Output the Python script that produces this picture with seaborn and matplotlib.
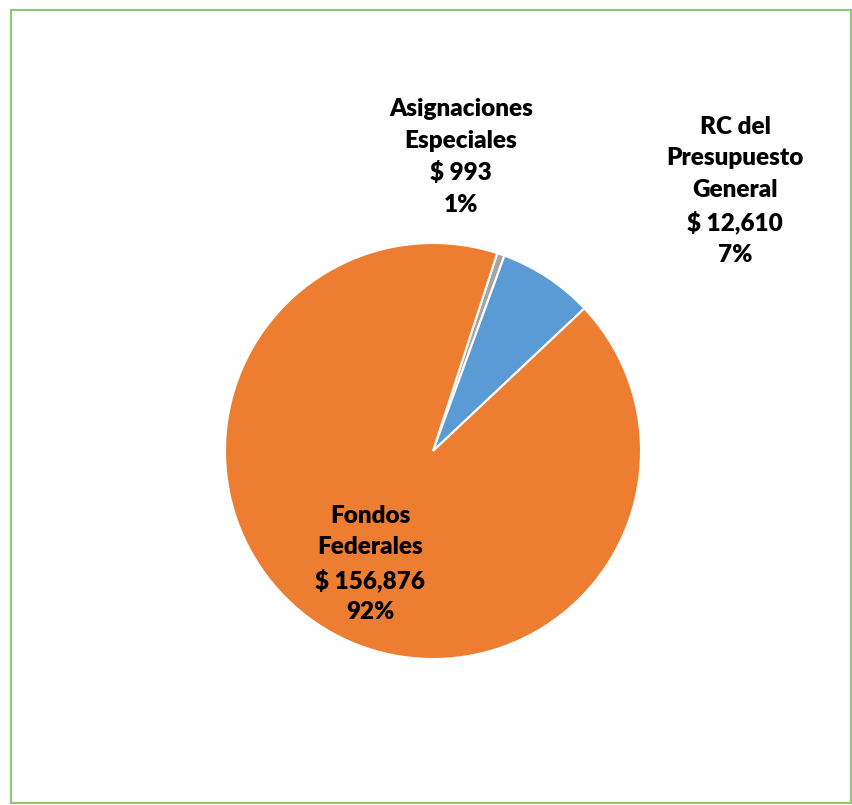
import matplotlib.pyplot as plt
import seaborn as sns
from matplotlib.patches import Rectangle

sns.set_theme(style="white")
plt.rcParams["font.family"] = ["Lato", "DejaVu Sans"]

# Data
categories = ["Asignaciones\nEspeciales", "RC del\nPresupuesto\nGeneral", "Fondos\nFederales"]
values = [993, 12610, 156876]
percents = ["1%", "7%", "92%"]
colors = ["#A5A5A5", "#5B9BD5", "#ED7D31"]

W, H = 852, 805
fig = plt.figure(figsize=(W / 100, H / 100), dpi=100)

# pie axes: center (433, 451) px, radius 208 px
cx, cy, r = 433, 451, 208
ax = fig.add_axes([(cx - r) / W, (H - cy - r) / H, 2 * r / W, 2 * r / H])
ax.pie(values, colors=colors, startangle=72, counterclock=False,
       wedgeprops=dict(edgecolor="white", linewidth=1.5))
ax.set_xlim(-1, 1)
ax.set_ylim(-1, 1)
ax.set_aspect("equal")
ax.axis("off")

# labels (pixel centers from the reference)
label_pos = [(461, 157), (735, 191), (370, 564)]
for cat, val, pct, (x, y) in zip(categories, values, percents, label_pos):
    txt = f"{cat}\n$ {val:,}\n{pct}"
    fig.text(x / W, 1 - y / H, txt, ha="center", va="center", fontsize=17.5,
             fontweight="heavy", color="black", linespacing=1.52)

# green frame
fig.patches.append(Rectangle((11 / W, 1 - 803 / H), 840 / W, 793 / H,
                             transform=fig.transFigure, fill=False,
                             edgecolor="#92C56F", linewidth=1.5))

fig.savefig("out.png", dpi=100)
